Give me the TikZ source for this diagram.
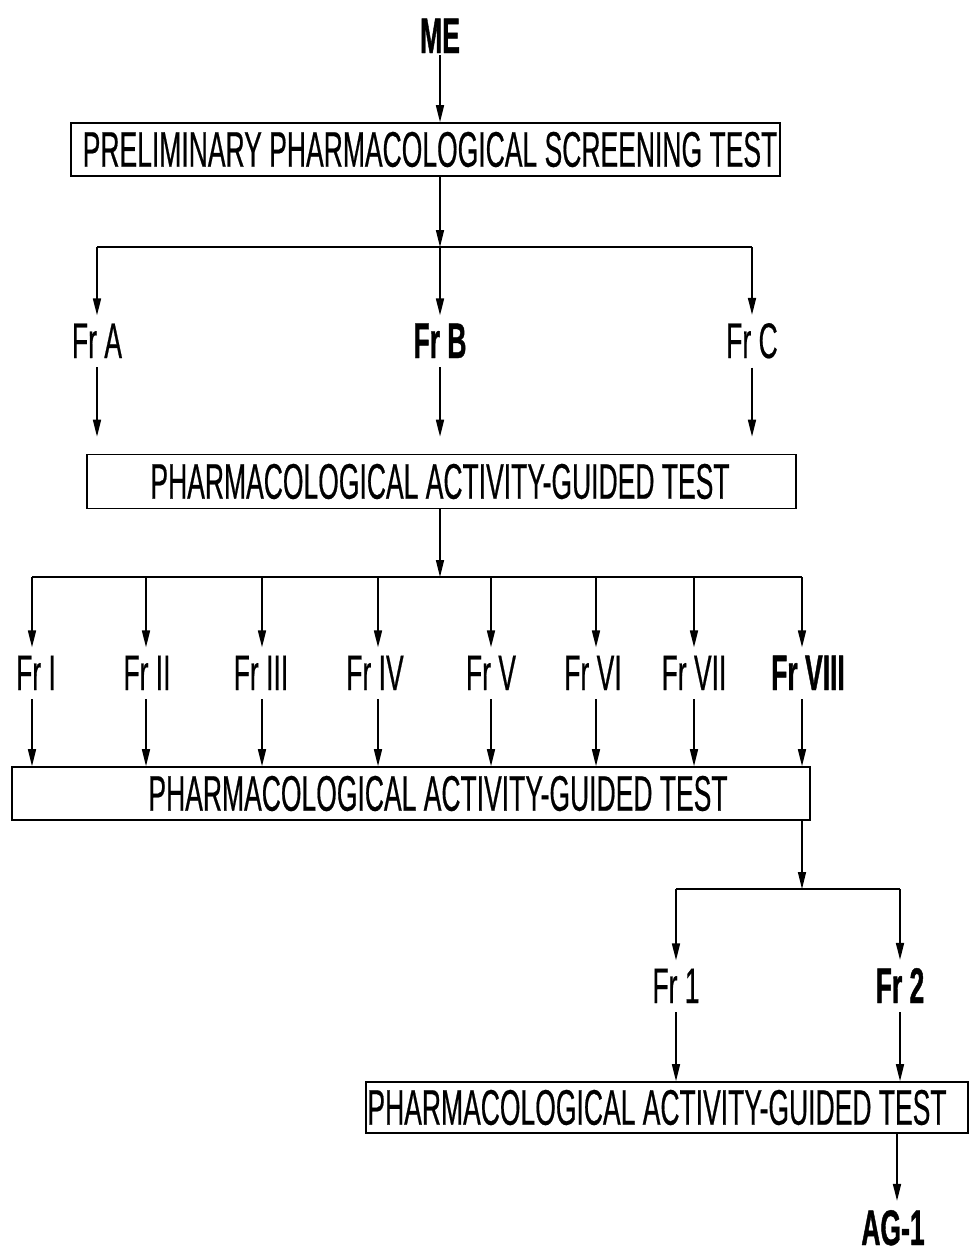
\documentclass[tikz,border=0pt]{standalone}
\usepackage{fontspec}
\setmainfont{Liberation Sans}[FakeStretch=0.53,UprightFeatures={FakeBold=0.4},BoldFeatures={FakeBold=0.8}]
\usetikzlibrary{arrows.meta}
\begin{document}
\begin{tikzpicture}[x=1pt,y=-1pt,
  every node/.style={font=\fontsize{50}{60}\selectfont},
  lbl/.style={anchor=base,inner sep=2pt},
  blbl/.style={lbl,font=\fontsize{50}{60}\selectfont\bfseries},
  boxst/.style={draw,line width=1.6pt,inner sep=0pt},
  boxtxt/.style={inner sep=0pt},
  ln/.style={line width=1.6pt},
  arr/.style={ln,-{Triangle[length=17pt,width=8pt]}}]
\useasboundingbox (0,0) rectangle (969,1253);

% top
\node[blbl] (me) at (440,53) {ME};
\node[boxst,minimum width=709pt,minimum height=53pt] (b1) at (425.5,149.5) {};
\node[boxtxt] (t1) at (430,149.5) {PRELIMINARY PHARMACOLOGICAL SCREENING TEST};
\draw[arr] (me.south) -- (b1.north -| me.south);

% level 1
\coordinate (br1) at (440,247);
\coordinate (br1L) at (97,247);
\coordinate (br1R) at (752,247);
\draw[arr] (b1.south -| br1) -- (br1);
\draw[ln] (br1L) -- (br1R);
\node[lbl] (fa) at (97,358) {Fr A};
\node[blbl] (fb) at (440,358) {Fr B};
\node[lbl] (fc) at (752,358) {Fr C};
\node[boxst,minimum width=709pt,minimum height=54pt] (b2) at (441.5,481.5) {};
\node[boxtxt] (t2) at (440,481.5) {PHARMACOLOGICAL ACTIVITY-GUIDED TEST};
\foreach \f/\c in {fa/br1L,fb/br1,fc/br1R}{
  \draw[arr,shorten >=6pt] (\c) -- (\f.north);
  \draw[arr,shorten <=7pt,shorten >=17pt] (\f.south) -- (\f.south |- b2.north);
}

% level 2
\coordinate (br2) at (440,577);
\draw[arr] (b2.south -| br2) -- (br2);
\node[boxst,minimum width=798pt,minimum height=53pt] (b3) at (411,793.5) {};
\node[boxtxt] (t3) at (438,793.5) {PHARMACOLOGICAL ACTIVITY-GUIDED TEST};
\foreach \i/\x/\lx/\t/\s in {1/32/36/Fr I/lbl,2/146/147/Fr II/lbl,3/262/261/Fr III/lbl,4/378/375/Fr IV/lbl,5/491/491/Fr V/lbl,6/596/593/Fr VI/lbl,7/694/694/Fr VII/lbl,8/802/808/Fr VIII/blbl}{
  \coordinate (c\i) at (\x,577);
  \node[\s] (f\i) at (\lx,690) {\t};
  \draw[arr,shorten >=6pt] (c\i) -- (c\i |- f\i.north);
  \draw[arr,shorten <=7pt] (c\i |- f\i.south) -- (c\i |- b3.north);
}
\draw[ln] (c1) -- (c8);

% level 3
\coordinate (br3) at (802,889);
\coordinate (br3L) at (676,889);
\coordinate (br3R) at (900,889);
\draw[arr] (b3.south -| br3) -- (br3);
\draw[ln] (br3L) -- (br3R);
\node[lbl] (g1) at (676,1003) {Fr 1};
\node[blbl] (g2) at (900,1003) {Fr 2};
\node[boxst,minimum width=602pt,minimum height=51pt] (b4) at (667,1107.5) {};
\node[boxtxt] (t4) at (657,1107.5) {PHARMACOLOGICAL ACTIVITY-GUIDED TEST};
\foreach \f/\c in {g1/br3L,g2/br3R}{
  \draw[arr,shorten >=6pt] (\c) -- (\f.north);
  \draw[arr,shorten <=7pt] (\f.south) -- (\f.south |- b4.north);
}

% bottom
\node[blbl] (ag) at (893,1245) {AG-1};
\coordinate (agc) at (897,1133);
\draw[arr,shorten >=7pt] (agc) -- (agc |- ag.north);
\end{tikzpicture}
\end{document}
